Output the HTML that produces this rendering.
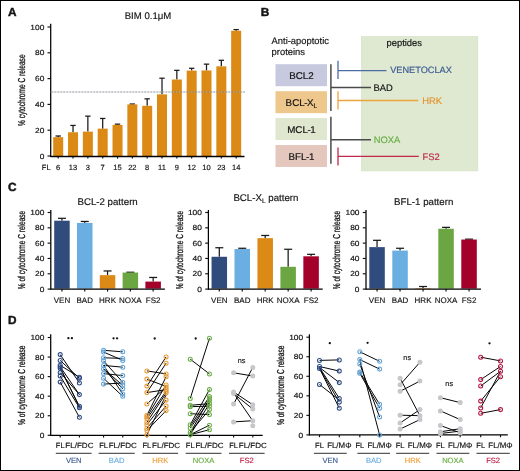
<!DOCTYPE html>
<html><head><meta charset="utf-8"><style>
html,body{margin:0;padding:0;background:#fff;}
body{width:520px;height:471px;overflow:hidden;}
#fig{position:absolute;left:0;top:0;width:520px;height:471px;box-sizing:border-box;border:1px solid #000;}
svg{position:absolute;left:0;top:0;}
text{font-family:"Liberation Sans", sans-serif;}
</style></head><body>
<div id="fig"></div>
<svg width="520" height="471" viewBox="0 0 520 471" font-family='"Liberation Sans", sans-serif' text-rendering="geometricPrecision" style="filter:blur(0.25px)">
<text x="8.00" y="16.30" font-size="11.8" fill="#141414" stroke="#141414" stroke-width="0.45" text-anchor="start" font-weight="bold" >A</text>
<text x="148.00" y="18.80" font-size="9.6" fill="#141414" stroke="#141414" stroke-width="0.17" text-anchor="middle" font-weight="normal" >BIM 0.1&#956;M</text>
<line x1="47.50" y1="156.00" x2="50.50" y2="156.00" stroke="#111" stroke-width="1.15" />
<text transform="translate(44.30,158.60) scale(1.13,1)" x="0" y="0" font-size="7.4" fill="#141414" stroke="#141414" stroke-width="0.17" text-anchor="end" font-weight="normal" >0</text>
<line x1="47.50" y1="130.20" x2="50.50" y2="130.20" stroke="#111" stroke-width="1.15" />
<text transform="translate(44.30,132.80) scale(1.13,1)" x="0" y="0" font-size="7.4" fill="#141414" stroke="#141414" stroke-width="0.17" text-anchor="end" font-weight="normal" >20</text>
<line x1="47.50" y1="104.40" x2="50.50" y2="104.40" stroke="#111" stroke-width="1.15" />
<text transform="translate(44.30,107.00) scale(1.13,1)" x="0" y="0" font-size="7.4" fill="#141414" stroke="#141414" stroke-width="0.17" text-anchor="end" font-weight="normal" >40</text>
<line x1="47.50" y1="78.60" x2="50.50" y2="78.60" stroke="#111" stroke-width="1.15" />
<text transform="translate(44.30,81.20) scale(1.13,1)" x="0" y="0" font-size="7.4" fill="#141414" stroke="#141414" stroke-width="0.17" text-anchor="end" font-weight="normal" >60</text>
<line x1="47.50" y1="52.80" x2="50.50" y2="52.80" stroke="#111" stroke-width="1.15" />
<text transform="translate(44.30,55.40) scale(1.13,1)" x="0" y="0" font-size="7.4" fill="#141414" stroke="#141414" stroke-width="0.17" text-anchor="end" font-weight="normal" >80</text>
<line x1="47.50" y1="27.00" x2="50.50" y2="27.00" stroke="#111" stroke-width="1.15" />
<text transform="translate(44.30,29.60) scale(1.13,1)" x="0" y="0" font-size="7.4" fill="#141414" stroke="#141414" stroke-width="0.17" text-anchor="end" font-weight="normal" >100</text>
<text transform="translate(22.30,90.20) rotate(-90)" x="0" y="0" font-size="10.0" fill="#141414" stroke="#141414" stroke-width="0.3" text-anchor="middle" dominant-baseline="central" textLength="71.5" lengthAdjust="spacingAndGlyphs">% cytochrome C release</text>
<line x1="58.20" y1="136.00" x2="58.20" y2="137.17" stroke="#1a1a1a" stroke-width="1.25" />
<line x1="55.50" y1="136.00" x2="60.90" y2="136.00" stroke="#1a1a1a" stroke-width="1.25" />
<rect x="53.20" y="137.17" width="10.00" height="18.83" fill="#db8a15"/>
<line x1="58.20" y1="156.50" x2="58.20" y2="158.60" stroke="#111" stroke-width="1.15" />
<text x="58.20" y="169.60" font-size="7.5" fill="#141414" stroke="#141414" stroke-width="0.17" text-anchor="middle" font-weight="normal" >6</text>
<line x1="73.03" y1="125.43" x2="73.03" y2="132.26" stroke="#1a1a1a" stroke-width="1.25" />
<line x1="70.33" y1="125.43" x2="75.73" y2="125.43" stroke="#1a1a1a" stroke-width="1.25" />
<rect x="68.03" y="132.26" width="10.00" height="23.74" fill="#db8a15"/>
<line x1="73.03" y1="156.50" x2="73.03" y2="158.60" stroke="#111" stroke-width="1.15" />
<text x="73.03" y="169.60" font-size="7.5" fill="#141414" stroke="#141414" stroke-width="0.17" text-anchor="middle" font-weight="normal" >13</text>
<line x1="87.86" y1="116.14" x2="87.86" y2="131.62" stroke="#1a1a1a" stroke-width="1.25" />
<line x1="85.16" y1="116.14" x2="90.56" y2="116.14" stroke="#1a1a1a" stroke-width="1.25" />
<rect x="82.86" y="131.62" width="10.00" height="24.38" fill="#db8a15"/>
<line x1="87.86" y1="156.50" x2="87.86" y2="158.60" stroke="#111" stroke-width="1.15" />
<text x="87.86" y="169.60" font-size="7.5" fill="#141414" stroke="#141414" stroke-width="0.17" text-anchor="middle" font-weight="normal" >3</text>
<line x1="102.69" y1="118.46" x2="102.69" y2="128.65" stroke="#1a1a1a" stroke-width="1.25" />
<line x1="99.99" y1="118.46" x2="105.39" y2="118.46" stroke="#1a1a1a" stroke-width="1.25" />
<rect x="97.69" y="128.65" width="10.00" height="27.35" fill="#db8a15"/>
<line x1="102.69" y1="156.50" x2="102.69" y2="158.60" stroke="#111" stroke-width="1.15" />
<text x="102.69" y="169.60" font-size="7.5" fill="#141414" stroke="#141414" stroke-width="0.17" text-anchor="middle" font-weight="normal" >7</text>
<line x1="117.52" y1="124.14" x2="117.52" y2="124.91" stroke="#1a1a1a" stroke-width="1.25" />
<line x1="114.82" y1="124.14" x2="120.22" y2="124.14" stroke="#1a1a1a" stroke-width="1.25" />
<rect x="112.52" y="124.91" width="10.00" height="31.09" fill="#db8a15"/>
<line x1="117.52" y1="156.50" x2="117.52" y2="158.60" stroke="#111" stroke-width="1.15" />
<text x="117.52" y="169.60" font-size="7.5" fill="#141414" stroke="#141414" stroke-width="0.17" text-anchor="middle" font-weight="normal" >15</text>
<line x1="132.35" y1="104.01" x2="132.35" y2="104.40" stroke="#1a1a1a" stroke-width="1.25" />
<line x1="129.65" y1="104.01" x2="135.05" y2="104.01" stroke="#1a1a1a" stroke-width="1.25" />
<rect x="127.35" y="104.40" width="10.00" height="51.60" fill="#db8a15"/>
<line x1="132.35" y1="156.50" x2="132.35" y2="158.60" stroke="#111" stroke-width="1.15" />
<text x="132.35" y="169.60" font-size="7.5" fill="#141414" stroke="#141414" stroke-width="0.17" text-anchor="middle" font-weight="normal" >22</text>
<line x1="147.18" y1="98.85" x2="147.18" y2="105.82" stroke="#1a1a1a" stroke-width="1.25" />
<line x1="144.48" y1="98.85" x2="149.88" y2="98.85" stroke="#1a1a1a" stroke-width="1.25" />
<rect x="142.18" y="105.82" width="10.00" height="50.18" fill="#db8a15"/>
<line x1="147.18" y1="156.50" x2="147.18" y2="158.60" stroke="#111" stroke-width="1.15" />
<text x="147.18" y="169.60" font-size="7.5" fill="#141414" stroke="#141414" stroke-width="0.17" text-anchor="middle" font-weight="normal" >8</text>
<line x1="162.01" y1="78.21" x2="162.01" y2="94.34" stroke="#1a1a1a" stroke-width="1.25" />
<line x1="159.31" y1="78.21" x2="164.71" y2="78.21" stroke="#1a1a1a" stroke-width="1.25" />
<rect x="157.01" y="94.34" width="10.00" height="61.66" fill="#db8a15"/>
<line x1="162.01" y1="156.50" x2="162.01" y2="158.60" stroke="#111" stroke-width="1.15" />
<text x="162.01" y="169.60" font-size="7.5" fill="#141414" stroke="#141414" stroke-width="0.17" text-anchor="middle" font-weight="normal" >11</text>
<line x1="176.84" y1="70.34" x2="176.84" y2="79.50" stroke="#1a1a1a" stroke-width="1.25" />
<line x1="174.14" y1="70.34" x2="179.54" y2="70.34" stroke="#1a1a1a" stroke-width="1.25" />
<rect x="171.84" y="79.50" width="10.00" height="76.50" fill="#db8a15"/>
<line x1="176.84" y1="156.50" x2="176.84" y2="158.60" stroke="#111" stroke-width="1.15" />
<text x="176.84" y="169.60" font-size="7.5" fill="#141414" stroke="#141414" stroke-width="0.17" text-anchor="middle" font-weight="normal" >9</text>
<line x1="191.67" y1="68.28" x2="191.67" y2="70.60" stroke="#1a1a1a" stroke-width="1.25" />
<line x1="188.97" y1="68.28" x2="194.37" y2="68.28" stroke="#1a1a1a" stroke-width="1.25" />
<rect x="186.67" y="70.60" width="10.00" height="85.40" fill="#db8a15"/>
<line x1="191.67" y1="156.50" x2="191.67" y2="158.60" stroke="#111" stroke-width="1.15" />
<text x="191.67" y="169.60" font-size="7.5" fill="#141414" stroke="#141414" stroke-width="0.17" text-anchor="middle" font-weight="normal" >12</text>
<line x1="206.50" y1="64.15" x2="206.50" y2="70.47" stroke="#1a1a1a" stroke-width="1.25" />
<line x1="203.80" y1="64.15" x2="209.20" y2="64.15" stroke="#1a1a1a" stroke-width="1.25" />
<rect x="201.50" y="70.47" width="10.00" height="85.53" fill="#db8a15"/>
<line x1="206.50" y1="156.50" x2="206.50" y2="158.60" stroke="#111" stroke-width="1.15" />
<text x="206.50" y="169.60" font-size="7.5" fill="#141414" stroke="#141414" stroke-width="0.17" text-anchor="middle" font-weight="normal" >10</text>
<line x1="221.33" y1="60.28" x2="221.33" y2="66.34" stroke="#1a1a1a" stroke-width="1.25" />
<line x1="218.63" y1="60.28" x2="224.03" y2="60.28" stroke="#1a1a1a" stroke-width="1.25" />
<rect x="216.33" y="66.34" width="10.00" height="89.66" fill="#db8a15"/>
<line x1="221.33" y1="156.50" x2="221.33" y2="158.60" stroke="#111" stroke-width="1.15" />
<text x="221.33" y="169.60" font-size="7.5" fill="#141414" stroke="#141414" stroke-width="0.17" text-anchor="middle" font-weight="normal" >23</text>
<line x1="236.16" y1="29.58" x2="236.16" y2="30.74" stroke="#1a1a1a" stroke-width="1.25" />
<line x1="233.46" y1="29.58" x2="238.86" y2="29.58" stroke="#1a1a1a" stroke-width="1.25" />
<rect x="231.16" y="30.74" width="10.00" height="125.26" fill="#db8a15"/>
<line x1="236.16" y1="156.50" x2="236.16" y2="158.60" stroke="#111" stroke-width="1.15" />
<text x="236.16" y="169.60" font-size="7.5" fill="#141414" stroke="#141414" stroke-width="0.17" text-anchor="middle" font-weight="normal" >14</text>
<text x="46.20" y="169.60" font-size="7.5" fill="#141414" stroke="#141414" stroke-width="0.17" text-anchor="middle" font-weight="normal" >FL</text>
<line x1="50.70" y1="23.80" x2="50.70" y2="157.00" stroke="#000" stroke-width="1.25" />
<line x1="50.50" y1="156.50" x2="244.50" y2="156.50" stroke="#000" stroke-width="1.3" />
<line x1="50.50" y1="92.00" x2="245.00" y2="92.00" stroke="rgba(185,190,200,0.6)" stroke-width="1.0" />
<line x1="51.50" y1="92.00" x2="245.00" y2="92.00" stroke="rgba(40,40,40,0.42)" stroke-width="1.0" stroke-dasharray="1.3 1.7"/>
<text x="260.80" y="15.80" font-size="11.8" fill="#141414" stroke="#141414" stroke-width="0.45" text-anchor="start" font-weight="bold" >B</text>
<rect x="361.5" y="36.6" width="116.3" height="134.3" fill="#dfe9d1" stroke="#d6e2c6" stroke-width="0.7"/>
<text x="271.60" y="43.80" font-size="9.4" fill="#141414" stroke="#141414" stroke-width="0.17" text-anchor="start" font-weight="normal" >Anti-apoptotic</text>
<text x="271.60" y="54.70" font-size="9.4" fill="#141414" stroke="#141414" stroke-width="0.17" text-anchor="start" font-weight="normal" >proteins</text>
<text x="386.50" y="46.30" font-size="9.4" fill="#141414" stroke="#141414" stroke-width="0.17" text-anchor="start" font-weight="normal" >peptides</text>
<rect x="275.50" y="64.20" width="51.50" height="22.00" fill="#c7c9de"/>
<text x="301.40" y="78.90" font-size="9.8" fill="#141414" stroke="#141414" stroke-width="0.2" text-anchor="middle" font-weight="normal" >BCL2</text>
<rect x="275.50" y="91.20" width="51.50" height="22.00" fill="#eec78c"/>
<text x="301.40" y="105.90" font-size="9.8" fill="#141414" stroke="#141414" stroke-width="0.2" text-anchor="middle" font-weight="normal" >BCL<tspan dx="-0.4">-</tspan><tspan dx="-0.5">X</tspan><tspan font-size="6.5" dy="2">L</tspan></text>
<rect x="275.50" y="118.00" width="51.50" height="22.00" fill="#dfe7cf"/>
<text x="301.40" y="132.70" font-size="9.8" fill="#141414" stroke="#141414" stroke-width="0.2" text-anchor="middle" font-weight="normal" >MCL<tspan dx="-0.4">-</tspan><tspan dx="-0.6">1</tspan></text>
<rect x="275.50" y="145.00" width="51.50" height="22.00" fill="#e4c8bd"/>
<text x="301.40" y="159.70" font-size="9.8" fill="#141414" stroke="#141414" stroke-width="0.2" text-anchor="middle" font-weight="normal" >BFL<tspan dx="-0.3">-</tspan><tspan dx="-0.4">1</tspan></text>
<line x1="330.90" y1="64.20" x2="330.90" y2="110.90" stroke="#4a4a4a" stroke-width="1.5" />
<line x1="330.90" y1="116.80" x2="330.90" y2="163.80" stroke="#4a4a4a" stroke-width="1.5" />
<line x1="330.90" y1="87.50" x2="371.00" y2="87.50" stroke="#4a4a4a" stroke-width="1.4" />
<line x1="330.90" y1="139.80" x2="371.00" y2="139.80" stroke="#4a4a4a" stroke-width="1.4" />
<line x1="338.00" y1="60.70" x2="338.00" y2="79.00" stroke="#4c6ca3" stroke-width="1.3" />
<line x1="338.00" y1="70.60" x2="386.50" y2="70.60" stroke="#4c6ca3" stroke-width="1.3" />
<line x1="338.00" y1="91.20" x2="338.00" y2="109.50" stroke="#eaa53e" stroke-width="1.3" />
<line x1="338.00" y1="100.50" x2="418.30" y2="100.50" stroke="#eaa53e" stroke-width="1.3" />
<line x1="338.00" y1="147.40" x2="338.00" y2="165.50" stroke="#c0284e" stroke-width="1.3" />
<line x1="338.00" y1="156.30" x2="418.80" y2="156.30" stroke="#c0284e" stroke-width="1.3" />
<text x="390.20" y="72.80" font-size="9.2" fill="#3b5b92" stroke="#3b5b92" stroke-width="0.17" text-anchor="start" font-weight="normal" >VENETOCLAX</text>
<text x="373.60" y="90.60" font-size="9.4" fill="#141414" stroke="#141414" stroke-width="0.17" text-anchor="start" font-weight="normal" >BAD</text>
<text x="422.20" y="103.60" font-size="9.4" fill="#e39430" stroke="#e39430" stroke-width="0.17" text-anchor="start" font-weight="normal" >HRK</text>
<text x="373.80" y="142.90" font-size="9.4" fill="#6aae45" stroke="#6aae45" stroke-width="0.17" text-anchor="start" font-weight="normal" >NOXA</text>
<text x="422.50" y="159.60" font-size="9.4" fill="#c0284e" stroke="#c0284e" stroke-width="0.17" text-anchor="start" font-weight="normal" >FS2</text>
<text x="8.00" y="190.80" font-size="11.8" fill="#141414" stroke="#141414" stroke-width="0.45" text-anchor="start" font-weight="bold" >C</text>
<line x1="47.60" y1="289.10" x2="50.60" y2="289.10" stroke="#111" stroke-width="1.15" />
<text transform="translate(44.30,291.70) scale(1.13,1)" x="0" y="0" font-size="7.4" fill="#141414" stroke="#141414" stroke-width="0.17" text-anchor="end" font-weight="normal" >0</text>
<line x1="47.60" y1="273.78" x2="50.60" y2="273.78" stroke="#111" stroke-width="1.15" />
<text transform="translate(44.30,276.38) scale(1.13,1)" x="0" y="0" font-size="7.4" fill="#141414" stroke="#141414" stroke-width="0.17" text-anchor="end" font-weight="normal" >20</text>
<line x1="47.60" y1="258.46" x2="50.60" y2="258.46" stroke="#111" stroke-width="1.15" />
<text transform="translate(44.30,261.06) scale(1.13,1)" x="0" y="0" font-size="7.4" fill="#141414" stroke="#141414" stroke-width="0.17" text-anchor="end" font-weight="normal" >40</text>
<line x1="47.60" y1="243.14" x2="50.60" y2="243.14" stroke="#111" stroke-width="1.15" />
<text transform="translate(44.30,245.74) scale(1.13,1)" x="0" y="0" font-size="7.4" fill="#141414" stroke="#141414" stroke-width="0.17" text-anchor="end" font-weight="normal" >60</text>
<line x1="47.60" y1="227.82" x2="50.60" y2="227.82" stroke="#111" stroke-width="1.15" />
<text transform="translate(44.30,230.42) scale(1.13,1)" x="0" y="0" font-size="7.4" fill="#141414" stroke="#141414" stroke-width="0.17" text-anchor="end" font-weight="normal" >80</text>
<line x1="47.60" y1="212.50" x2="50.60" y2="212.50" stroke="#111" stroke-width="1.15" />
<text transform="translate(44.30,215.10) scale(1.13,1)" x="0" y="0" font-size="7.4" fill="#141414" stroke="#141414" stroke-width="0.17" text-anchor="end" font-weight="normal" >100</text>
<text transform="translate(22.20,250.00) rotate(-90)" x="0" y="0" font-size="10.0" fill="#141414" stroke="#141414" stroke-width="0.3" text-anchor="middle" dominant-baseline="central" textLength="78.5" lengthAdjust="spacingAndGlyphs">% of cytochrome C release</text>
<text x="107.60" y="204.90" font-size="9.7" fill="#141414" stroke="#141414" stroke-width="0.17" text-anchor="middle" font-weight="normal" >BCL-2 pattern</text>
<line x1="61.95" y1="218.32" x2="61.95" y2="220.70" stroke="#1a1a1a" stroke-width="1.25" />
<line x1="57.95" y1="218.32" x2="65.95" y2="218.32" stroke="#1a1a1a" stroke-width="1.25" />
<rect x="54.20" y="220.70" width="15.50" height="67.90" fill="#2f4c7d"/>
<line x1="61.95" y1="289.10" x2="61.95" y2="291.60" stroke="#111" stroke-width="1.15" />
<text x="61.95" y="302.50" font-size="8.0" fill="#141414" stroke="#141414" stroke-width="0.15" text-anchor="middle" font-weight="normal" >VEN</text>
<line x1="84.75" y1="221.46" x2="84.75" y2="222.92" stroke="#1a1a1a" stroke-width="1.25" />
<line x1="80.75" y1="221.46" x2="88.75" y2="221.46" stroke="#1a1a1a" stroke-width="1.25" />
<rect x="77.00" y="222.92" width="15.50" height="65.68" fill="#6aaee2"/>
<line x1="84.75" y1="289.10" x2="84.75" y2="291.60" stroke="#111" stroke-width="1.15" />
<text x="84.75" y="302.50" font-size="8.0" fill="#141414" stroke="#141414" stroke-width="0.15" text-anchor="middle" font-weight="normal" >BAD</text>
<line x1="107.55" y1="270.95" x2="107.55" y2="275.16" stroke="#1a1a1a" stroke-width="1.25" />
<line x1="103.55" y1="270.95" x2="111.55" y2="270.95" stroke="#1a1a1a" stroke-width="1.25" />
<rect x="99.80" y="275.16" width="15.50" height="13.44" fill="#db8a15"/>
<line x1="107.55" y1="289.10" x2="107.55" y2="291.60" stroke="#111" stroke-width="1.15" />
<text x="107.55" y="302.50" font-size="8.0" fill="#141414" stroke="#141414" stroke-width="0.15" text-anchor="middle" font-weight="normal" >HRK</text>
<line x1="130.35" y1="272.25" x2="130.35" y2="272.55" stroke="#1a1a1a" stroke-width="1.25" />
<line x1="126.35" y1="272.25" x2="134.35" y2="272.25" stroke="#1a1a1a" stroke-width="1.25" />
<rect x="122.60" y="272.55" width="15.50" height="16.05" fill="#6ba643"/>
<line x1="130.35" y1="289.10" x2="130.35" y2="291.60" stroke="#111" stroke-width="1.15" />
<text x="130.35" y="302.50" font-size="8.0" fill="#141414" stroke="#141414" stroke-width="0.15" text-anchor="middle" font-weight="normal" >NOXA</text>
<line x1="153.15" y1="277.46" x2="153.15" y2="281.59" stroke="#1a1a1a" stroke-width="1.25" />
<line x1="149.15" y1="277.46" x2="157.15" y2="277.46" stroke="#1a1a1a" stroke-width="1.25" />
<rect x="145.40" y="281.59" width="15.50" height="7.01" fill="#a3012a"/>
<line x1="153.15" y1="289.10" x2="153.15" y2="291.60" stroke="#111" stroke-width="1.15" />
<text x="153.15" y="302.50" font-size="8.0" fill="#141414" stroke="#141414" stroke-width="0.15" text-anchor="middle" font-weight="normal" >FS2</text>
<line x1="50.80" y1="210.00" x2="50.80" y2="289.70" stroke="#000" stroke-width="1.25" />
<line x1="50.60" y1="289.10" x2="164.90" y2="289.10" stroke="#000" stroke-width="1.3" />
<line x1="205.20" y1="289.10" x2="208.20" y2="289.10" stroke="#111" stroke-width="1.15" />
<text transform="translate(201.90,291.70) scale(1.13,1)" x="0" y="0" font-size="7.4" fill="#141414" stroke="#141414" stroke-width="0.17" text-anchor="end" font-weight="normal" >0</text>
<line x1="205.20" y1="273.78" x2="208.20" y2="273.78" stroke="#111" stroke-width="1.15" />
<text transform="translate(201.90,276.38) scale(1.13,1)" x="0" y="0" font-size="7.4" fill="#141414" stroke="#141414" stroke-width="0.17" text-anchor="end" font-weight="normal" >20</text>
<line x1="205.20" y1="258.46" x2="208.20" y2="258.46" stroke="#111" stroke-width="1.15" />
<text transform="translate(201.90,261.06) scale(1.13,1)" x="0" y="0" font-size="7.4" fill="#141414" stroke="#141414" stroke-width="0.17" text-anchor="end" font-weight="normal" >40</text>
<line x1="205.20" y1="243.14" x2="208.20" y2="243.14" stroke="#111" stroke-width="1.15" />
<text transform="translate(201.90,245.74) scale(1.13,1)" x="0" y="0" font-size="7.4" fill="#141414" stroke="#141414" stroke-width="0.17" text-anchor="end" font-weight="normal" >60</text>
<line x1="205.20" y1="227.82" x2="208.20" y2="227.82" stroke="#111" stroke-width="1.15" />
<text transform="translate(201.90,230.42) scale(1.13,1)" x="0" y="0" font-size="7.4" fill="#141414" stroke="#141414" stroke-width="0.17" text-anchor="end" font-weight="normal" >80</text>
<line x1="205.20" y1="212.50" x2="208.20" y2="212.50" stroke="#111" stroke-width="1.15" />
<text transform="translate(201.90,215.10) scale(1.13,1)" x="0" y="0" font-size="7.4" fill="#141414" stroke="#141414" stroke-width="0.17" text-anchor="end" font-weight="normal" >100</text>
<text transform="translate(180.10,250.00) rotate(-90)" x="0" y="0" font-size="10.0" fill="#141414" stroke="#141414" stroke-width="0.3" text-anchor="middle" dominant-baseline="central" textLength="78.5" lengthAdjust="spacingAndGlyphs">% of cytochrome C release</text>
<text x="265.90" y="200.60" font-size="9.7" fill="#141414" stroke="#141414" stroke-width="0.17" text-anchor="middle" font-weight="normal" >BCL-X<tspan font-size="6.5" dy="2">L</tspan><tspan dy="-2"> pattern</tspan></text>
<line x1="219.30" y1="247.74" x2="219.30" y2="256.77" stroke="#1a1a1a" stroke-width="1.25" />
<line x1="215.30" y1="247.74" x2="223.30" y2="247.74" stroke="#1a1a1a" stroke-width="1.25" />
<rect x="211.55" y="256.77" width="15.50" height="31.83" fill="#2f4c7d"/>
<line x1="219.30" y1="289.10" x2="219.30" y2="291.60" stroke="#111" stroke-width="1.15" />
<text x="219.30" y="302.50" font-size="8.0" fill="#141414" stroke="#141414" stroke-width="0.15" text-anchor="middle" font-weight="normal" >VEN</text>
<line x1="242.25" y1="248.27" x2="242.25" y2="249.04" stroke="#1a1a1a" stroke-width="1.25" />
<line x1="238.25" y1="248.27" x2="246.25" y2="248.27" stroke="#1a1a1a" stroke-width="1.25" />
<rect x="234.50" y="249.04" width="15.50" height="39.56" fill="#6aaee2"/>
<line x1="242.25" y1="289.10" x2="242.25" y2="291.60" stroke="#111" stroke-width="1.15" />
<text x="242.25" y="302.50" font-size="8.0" fill="#141414" stroke="#141414" stroke-width="0.15" text-anchor="middle" font-weight="normal" >BAD</text>
<line x1="265.20" y1="235.48" x2="265.20" y2="238.16" stroke="#1a1a1a" stroke-width="1.25" />
<line x1="261.20" y1="235.48" x2="269.20" y2="235.48" stroke="#1a1a1a" stroke-width="1.25" />
<rect x="257.45" y="238.16" width="15.50" height="50.44" fill="#db8a15"/>
<line x1="265.20" y1="289.10" x2="265.20" y2="291.60" stroke="#111" stroke-width="1.15" />
<text x="265.20" y="302.50" font-size="8.0" fill="#141414" stroke="#141414" stroke-width="0.15" text-anchor="middle" font-weight="normal" >HRK</text>
<line x1="288.15" y1="249.27" x2="288.15" y2="266.81" stroke="#1a1a1a" stroke-width="1.25" />
<line x1="284.15" y1="249.27" x2="292.15" y2="249.27" stroke="#1a1a1a" stroke-width="1.25" />
<rect x="280.40" y="266.81" width="15.50" height="21.79" fill="#6ba643"/>
<line x1="288.15" y1="289.10" x2="288.15" y2="291.60" stroke="#111" stroke-width="1.15" />
<text x="288.15" y="302.50" font-size="8.0" fill="#141414" stroke="#141414" stroke-width="0.15" text-anchor="middle" font-weight="normal" >NOXA</text>
<line x1="311.10" y1="254.32" x2="311.10" y2="256.32" stroke="#1a1a1a" stroke-width="1.25" />
<line x1="307.10" y1="254.32" x2="315.10" y2="254.32" stroke="#1a1a1a" stroke-width="1.25" />
<rect x="303.35" y="256.32" width="15.50" height="32.28" fill="#a3012a"/>
<line x1="311.10" y1="289.10" x2="311.10" y2="291.60" stroke="#111" stroke-width="1.15" />
<text x="311.10" y="302.50" font-size="8.0" fill="#141414" stroke="#141414" stroke-width="0.15" text-anchor="middle" font-weight="normal" >FS2</text>
<line x1="208.40" y1="210.00" x2="208.40" y2="289.70" stroke="#000" stroke-width="1.25" />
<line x1="208.20" y1="289.10" x2="322.70" y2="289.10" stroke="#000" stroke-width="1.3" />
<line x1="362.80" y1="289.10" x2="365.80" y2="289.10" stroke="#111" stroke-width="1.15" />
<text transform="translate(359.50,291.70) scale(1.13,1)" x="0" y="0" font-size="7.4" fill="#141414" stroke="#141414" stroke-width="0.17" text-anchor="end" font-weight="normal" >0</text>
<line x1="362.80" y1="273.78" x2="365.80" y2="273.78" stroke="#111" stroke-width="1.15" />
<text transform="translate(359.50,276.38) scale(1.13,1)" x="0" y="0" font-size="7.4" fill="#141414" stroke="#141414" stroke-width="0.17" text-anchor="end" font-weight="normal" >20</text>
<line x1="362.80" y1="258.46" x2="365.80" y2="258.46" stroke="#111" stroke-width="1.15" />
<text transform="translate(359.50,261.06) scale(1.13,1)" x="0" y="0" font-size="7.4" fill="#141414" stroke="#141414" stroke-width="0.17" text-anchor="end" font-weight="normal" >40</text>
<line x1="362.80" y1="243.14" x2="365.80" y2="243.14" stroke="#111" stroke-width="1.15" />
<text transform="translate(359.50,245.74) scale(1.13,1)" x="0" y="0" font-size="7.4" fill="#141414" stroke="#141414" stroke-width="0.17" text-anchor="end" font-weight="normal" >60</text>
<line x1="362.80" y1="227.82" x2="365.80" y2="227.82" stroke="#111" stroke-width="1.15" />
<text transform="translate(359.50,230.42) scale(1.13,1)" x="0" y="0" font-size="7.4" fill="#141414" stroke="#141414" stroke-width="0.17" text-anchor="end" font-weight="normal" >80</text>
<line x1="362.80" y1="212.50" x2="365.80" y2="212.50" stroke="#111" stroke-width="1.15" />
<text transform="translate(359.50,215.10) scale(1.13,1)" x="0" y="0" font-size="7.4" fill="#141414" stroke="#141414" stroke-width="0.17" text-anchor="end" font-weight="normal" >100</text>
<text transform="translate(337.90,250.00) rotate(-90)" x="0" y="0" font-size="10.0" fill="#141414" stroke="#141414" stroke-width="0.3" text-anchor="middle" dominant-baseline="central" textLength="78.5" lengthAdjust="spacingAndGlyphs">% of cytochrome C release</text>
<text x="423.70" y="204.50" font-size="9.7" fill="#141414" stroke="#141414" stroke-width="0.17" text-anchor="middle" font-weight="normal" >BFL-1 pattern</text>
<line x1="377.05" y1="240.31" x2="377.05" y2="247.12" stroke="#1a1a1a" stroke-width="1.25" />
<line x1="373.05" y1="240.31" x2="381.05" y2="240.31" stroke="#1a1a1a" stroke-width="1.25" />
<rect x="369.30" y="247.12" width="15.50" height="41.48" fill="#2f4c7d"/>
<line x1="377.05" y1="289.10" x2="377.05" y2="291.60" stroke="#111" stroke-width="1.15" />
<text x="377.05" y="302.50" font-size="8.0" fill="#141414" stroke="#141414" stroke-width="0.15" text-anchor="middle" font-weight="normal" >VEN</text>
<line x1="400.05" y1="248.27" x2="400.05" y2="250.57" stroke="#1a1a1a" stroke-width="1.25" />
<line x1="396.05" y1="248.27" x2="404.05" y2="248.27" stroke="#1a1a1a" stroke-width="1.25" />
<rect x="392.30" y="250.57" width="15.50" height="38.03" fill="#6aaee2"/>
<line x1="400.05" y1="289.10" x2="400.05" y2="291.60" stroke="#111" stroke-width="1.15" />
<text x="400.05" y="302.50" font-size="8.0" fill="#141414" stroke="#141414" stroke-width="0.15" text-anchor="middle" font-weight="normal" >BAD</text>
<line x1="423.05" y1="286.50" x2="423.05" y2="288.10" stroke="#1a1a1a" stroke-width="1.25" />
<line x1="419.05" y1="286.50" x2="427.05" y2="286.50" stroke="#1a1a1a" stroke-width="1.25" />
<rect x="415.30" y="288.10" width="15.50" height="0.50" fill="#db8a15"/>
<line x1="423.05" y1="289.10" x2="423.05" y2="291.60" stroke="#111" stroke-width="1.15" />
<text x="423.05" y="302.50" font-size="8.0" fill="#141414" stroke="#141414" stroke-width="0.15" text-anchor="middle" font-weight="normal" >HRK</text>
<line x1="446.05" y1="227.36" x2="446.05" y2="228.74" stroke="#1a1a1a" stroke-width="1.25" />
<line x1="442.05" y1="227.36" x2="450.05" y2="227.36" stroke="#1a1a1a" stroke-width="1.25" />
<rect x="438.30" y="228.74" width="15.50" height="59.86" fill="#6ba643"/>
<line x1="446.05" y1="289.10" x2="446.05" y2="291.60" stroke="#111" stroke-width="1.15" />
<text x="446.05" y="302.50" font-size="8.0" fill="#141414" stroke="#141414" stroke-width="0.15" text-anchor="middle" font-weight="normal" >NOXA</text>
<line x1="469.05" y1="239.16" x2="469.05" y2="239.54" stroke="#1a1a1a" stroke-width="1.25" />
<line x1="465.05" y1="239.16" x2="473.05" y2="239.16" stroke="#1a1a1a" stroke-width="1.25" />
<rect x="461.30" y="239.54" width="15.50" height="49.06" fill="#a3012a"/>
<line x1="469.05" y1="289.10" x2="469.05" y2="291.60" stroke="#111" stroke-width="1.15" />
<text x="469.05" y="302.50" font-size="8.0" fill="#141414" stroke="#141414" stroke-width="0.15" text-anchor="middle" font-weight="normal" >FS2</text>
<line x1="366.00" y1="210.00" x2="366.00" y2="289.70" stroke="#000" stroke-width="1.25" />
<line x1="365.80" y1="289.10" x2="481.00" y2="289.10" stroke="#000" stroke-width="1.3" />
<text x="8.00" y="323.50" font-size="11.8" fill="#141414" stroke="#141414" stroke-width="0.45" text-anchor="start" font-weight="bold" >D</text>
<line x1="50.70" y1="334.30" x2="50.70" y2="435.90" stroke="#000" stroke-width="1.25" />
<line x1="50.70" y1="435.30" x2="262.70" y2="435.30" stroke="#000" stroke-width="1.3" />
<line x1="47.70" y1="435.30" x2="50.70" y2="435.30" stroke="#111" stroke-width="1.15" />
<text transform="translate(44.40,437.90) scale(1.13,1)" x="0" y="0" font-size="7.4" fill="#141414" stroke="#141414" stroke-width="0.17" text-anchor="end" font-weight="normal" >0</text>
<line x1="47.70" y1="415.74" x2="50.70" y2="415.74" stroke="#111" stroke-width="1.15" />
<text transform="translate(44.40,418.34) scale(1.13,1)" x="0" y="0" font-size="7.4" fill="#141414" stroke="#141414" stroke-width="0.17" text-anchor="end" font-weight="normal" >20</text>
<line x1="47.70" y1="396.18" x2="50.70" y2="396.18" stroke="#111" stroke-width="1.15" />
<text transform="translate(44.40,398.78) scale(1.13,1)" x="0" y="0" font-size="7.4" fill="#141414" stroke="#141414" stroke-width="0.17" text-anchor="end" font-weight="normal" >40</text>
<line x1="47.70" y1="376.62" x2="50.70" y2="376.62" stroke="#111" stroke-width="1.15" />
<text transform="translate(44.40,379.22) scale(1.13,1)" x="0" y="0" font-size="7.4" fill="#141414" stroke="#141414" stroke-width="0.17" text-anchor="end" font-weight="normal" >60</text>
<line x1="47.70" y1="357.06" x2="50.70" y2="357.06" stroke="#111" stroke-width="1.15" />
<text transform="translate(44.40,359.66) scale(1.13,1)" x="0" y="0" font-size="7.4" fill="#141414" stroke="#141414" stroke-width="0.17" text-anchor="end" font-weight="normal" >80</text>
<line x1="47.70" y1="337.50" x2="50.70" y2="337.50" stroke="#111" stroke-width="1.15" />
<text transform="translate(44.40,340.10) scale(1.13,1)" x="0" y="0" font-size="7.4" fill="#141414" stroke="#141414" stroke-width="0.17" text-anchor="end" font-weight="normal" >100</text>
<line x1="60.20" y1="435.30" x2="60.20" y2="437.60" stroke="#111" stroke-width="1.15" />
<line x1="79.40" y1="435.30" x2="79.40" y2="437.60" stroke="#111" stroke-width="1.15" />
<line x1="60.20" y1="354.60" x2="79.40" y2="382.90" stroke="#050505" stroke-width="1.0" />
<line x1="60.20" y1="360.40" x2="79.40" y2="378.30" stroke="#050505" stroke-width="1.0" />
<line x1="60.20" y1="365.30" x2="79.40" y2="377.20" stroke="#050505" stroke-width="1.0" />
<line x1="60.20" y1="366.80" x2="79.40" y2="394.60" stroke="#050505" stroke-width="1.0" />
<line x1="60.20" y1="368.30" x2="79.40" y2="406.30" stroke="#050505" stroke-width="1.0" />
<line x1="60.20" y1="372.60" x2="79.40" y2="394.60" stroke="#050505" stroke-width="1.0" />
<line x1="60.20" y1="376.00" x2="79.40" y2="407.80" stroke="#050505" stroke-width="1.0" />
<line x1="60.20" y1="382.10" x2="79.40" y2="417.30" stroke="#050505" stroke-width="1.0" />
<line x1="60.20" y1="367.50" x2="79.40" y2="407.00" stroke="#050505" stroke-width="1.0" />
<circle cx="60.20" cy="354.60" r="2.0" fill="none" stroke="#2b4a86" stroke-width="1.05"/>
<circle cx="60.20" cy="360.40" r="2.0" fill="none" stroke="#2b4a86" stroke-width="1.05"/>
<circle cx="60.20" cy="365.30" r="2.0" fill="none" stroke="#2b4a86" stroke-width="1.05"/>
<circle cx="60.20" cy="366.80" r="2.0" fill="none" stroke="#2b4a86" stroke-width="1.05"/>
<circle cx="60.20" cy="368.30" r="2.0" fill="none" stroke="#2b4a86" stroke-width="1.05"/>
<circle cx="60.20" cy="372.60" r="2.0" fill="none" stroke="#2b4a86" stroke-width="1.05"/>
<circle cx="60.20" cy="376.00" r="2.0" fill="none" stroke="#2b4a86" stroke-width="1.05"/>
<circle cx="60.20" cy="382.10" r="2.0" fill="none" stroke="#2b4a86" stroke-width="1.05"/>
<circle cx="79.40" cy="377.20" r="2.0" fill="none" stroke="#2b4a86" stroke-width="1.05"/>
<circle cx="79.40" cy="378.30" r="2.0" fill="none" stroke="#2b4a86" stroke-width="1.05"/>
<circle cx="79.40" cy="382.90" r="2.0" fill="none" stroke="#2b4a86" stroke-width="1.05"/>
<circle cx="79.40" cy="394.60" r="2.0" fill="none" stroke="#2b4a86" stroke-width="1.05"/>
<circle cx="79.40" cy="406.30" r="2.0" fill="none" stroke="#2b4a86" stroke-width="1.05"/>
<circle cx="79.40" cy="407.80" r="2.0" fill="none" stroke="#2b4a86" stroke-width="1.05"/>
<circle cx="79.40" cy="417.30" r="2.0" fill="none" stroke="#2b4a86" stroke-width="1.05"/>
<text x="60.20" y="448.00" font-size="7.5" fill="#141414" stroke="#141414" stroke-width="0.17" text-anchor="middle" font-weight="normal" >FL</text>
<text transform="translate(79.40,448.00) scale(1.07,1)" x="0" y="0" font-size="7.5" fill="#141414" stroke="#141414" stroke-width="0.17" text-anchor="middle" font-weight="normal" >FL/FDC</text>
<line x1="55.80" y1="453.30" x2="91.60" y2="453.30" stroke="#58595b" stroke-width="1.25" />
<text x="73.70" y="462.90" font-size="7.6" fill="#3c5a94" stroke="#3c5a94" stroke-width="0.17" text-anchor="middle" font-weight="normal" >VEN</text>
<line x1="103.55" y1="435.30" x2="103.55" y2="437.60" stroke="#111" stroke-width="1.15" />
<line x1="122.75" y1="435.30" x2="122.75" y2="437.60" stroke="#111" stroke-width="1.15" />
<line x1="103.55" y1="350.30" x2="122.75" y2="351.80" stroke="#050505" stroke-width="1.0" />
<line x1="103.55" y1="352.00" x2="122.75" y2="360.40" stroke="#050505" stroke-width="1.0" />
<line x1="103.55" y1="357.80" x2="122.75" y2="358.40" stroke="#050505" stroke-width="1.0" />
<line x1="103.55" y1="360.80" x2="122.75" y2="382.30" stroke="#050505" stroke-width="1.0" />
<line x1="103.55" y1="365.40" x2="122.75" y2="367.20" stroke="#050505" stroke-width="1.0" />
<line x1="103.55" y1="365.40" x2="122.75" y2="394.00" stroke="#050505" stroke-width="1.0" />
<line x1="103.55" y1="368.90" x2="122.75" y2="385.30" stroke="#050505" stroke-width="1.0" />
<line x1="103.55" y1="373.60" x2="122.75" y2="375.60" stroke="#050505" stroke-width="1.0" />
<line x1="103.55" y1="378.30" x2="122.75" y2="396.30" stroke="#050505" stroke-width="1.0" />
<line x1="103.55" y1="384.10" x2="122.75" y2="383.00" stroke="#050505" stroke-width="1.0" />
<line x1="103.55" y1="368.90" x2="122.75" y2="388.80" stroke="#050505" stroke-width="1.0" />
<circle cx="103.55" cy="350.30" r="2.0" fill="none" stroke="#62a6dc" stroke-width="1.05"/>
<circle cx="103.55" cy="352.00" r="2.0" fill="none" stroke="#62a6dc" stroke-width="1.05"/>
<circle cx="103.55" cy="357.80" r="2.0" fill="none" stroke="#62a6dc" stroke-width="1.05"/>
<circle cx="103.55" cy="360.80" r="2.0" fill="none" stroke="#62a6dc" stroke-width="1.05"/>
<circle cx="103.55" cy="365.40" r="2.0" fill="none" stroke="#62a6dc" stroke-width="1.05"/>
<circle cx="103.55" cy="368.90" r="2.0" fill="none" stroke="#62a6dc" stroke-width="1.05"/>
<circle cx="103.55" cy="373.60" r="2.0" fill="none" stroke="#62a6dc" stroke-width="1.05"/>
<circle cx="103.55" cy="378.30" r="2.0" fill="none" stroke="#62a6dc" stroke-width="1.05"/>
<circle cx="103.55" cy="384.10" r="2.0" fill="none" stroke="#62a6dc" stroke-width="1.05"/>
<circle cx="122.75" cy="351.80" r="2.0" fill="none" stroke="#62a6dc" stroke-width="1.05"/>
<circle cx="122.75" cy="358.40" r="2.0" fill="none" stroke="#62a6dc" stroke-width="1.05"/>
<circle cx="122.75" cy="360.60" r="2.0" fill="none" stroke="#62a6dc" stroke-width="1.05"/>
<circle cx="122.75" cy="367.20" r="2.0" fill="none" stroke="#62a6dc" stroke-width="1.05"/>
<circle cx="122.75" cy="375.60" r="2.0" fill="none" stroke="#62a6dc" stroke-width="1.05"/>
<circle cx="122.75" cy="382.30" r="2.0" fill="none" stroke="#62a6dc" stroke-width="1.05"/>
<circle cx="122.75" cy="385.30" r="2.0" fill="none" stroke="#62a6dc" stroke-width="1.05"/>
<circle cx="122.75" cy="388.80" r="2.0" fill="none" stroke="#62a6dc" stroke-width="1.05"/>
<circle cx="122.75" cy="394.00" r="2.0" fill="none" stroke="#62a6dc" stroke-width="1.05"/>
<circle cx="122.75" cy="396.30" r="2.0" fill="none" stroke="#62a6dc" stroke-width="1.05"/>
<text x="103.55" y="448.00" font-size="7.5" fill="#141414" stroke="#141414" stroke-width="0.17" text-anchor="middle" font-weight="normal" >FL</text>
<text transform="translate(122.75,448.00) scale(1.07,1)" x="0" y="0" font-size="7.5" fill="#141414" stroke="#141414" stroke-width="0.17" text-anchor="middle" font-weight="normal" >FL/FDC</text>
<line x1="98.60" y1="453.30" x2="134.70" y2="453.30" stroke="#58595b" stroke-width="1.25" />
<text x="116.65" y="462.90" font-size="7.6" fill="#6aaee2" stroke="#6aaee2" stroke-width="0.17" text-anchor="middle" font-weight="normal" >BAD</text>
<line x1="146.90" y1="435.30" x2="146.90" y2="437.60" stroke="#111" stroke-width="1.15" />
<line x1="166.10" y1="435.30" x2="166.10" y2="437.60" stroke="#111" stroke-width="1.15" />
<line x1="146.90" y1="370.90" x2="166.10" y2="373.90" stroke="#050505" stroke-width="1.0" />
<line x1="146.90" y1="379.10" x2="166.10" y2="386.50" stroke="#050505" stroke-width="1.0" />
<line x1="146.90" y1="386.10" x2="166.10" y2="356.90" stroke="#050505" stroke-width="1.0" />
<line x1="146.90" y1="392.60" x2="166.10" y2="363.20" stroke="#050505" stroke-width="1.0" />
<line x1="146.90" y1="392.60" x2="166.10" y2="389.60" stroke="#050505" stroke-width="1.0" />
<line x1="146.90" y1="403.90" x2="166.10" y2="387.30" stroke="#050505" stroke-width="1.0" />
<line x1="146.90" y1="415.30" x2="166.10" y2="376.80" stroke="#050505" stroke-width="1.0" />
<line x1="146.90" y1="417.00" x2="166.10" y2="384.90" stroke="#050505" stroke-width="1.0" />
<line x1="146.90" y1="418.80" x2="166.10" y2="391.20" stroke="#050505" stroke-width="1.0" />
<line x1="146.90" y1="422.30" x2="166.10" y2="393.10" stroke="#050505" stroke-width="1.0" />
<line x1="146.90" y1="424.70" x2="166.10" y2="400.10" stroke="#050505" stroke-width="1.0" />
<line x1="146.90" y1="428.20" x2="166.10" y2="406.00" stroke="#050505" stroke-width="1.0" />
<line x1="146.90" y1="430.50" x2="166.10" y2="410.60" stroke="#050505" stroke-width="1.0" />
<line x1="146.90" y1="434.70" x2="166.10" y2="395.00" stroke="#050505" stroke-width="1.0" />
<circle cx="146.90" cy="370.90" r="2.0" fill="none" stroke="#e89a34" stroke-width="1.05"/>
<circle cx="146.90" cy="379.10" r="2.0" fill="none" stroke="#e89a34" stroke-width="1.05"/>
<circle cx="146.90" cy="386.10" r="2.0" fill="none" stroke="#e89a34" stroke-width="1.05"/>
<circle cx="146.90" cy="392.60" r="2.0" fill="none" stroke="#e89a34" stroke-width="1.05"/>
<circle cx="146.90" cy="403.90" r="2.0" fill="none" stroke="#e89a34" stroke-width="1.05"/>
<circle cx="146.90" cy="415.30" r="2.0" fill="none" stroke="#e89a34" stroke-width="1.05"/>
<circle cx="146.90" cy="417.00" r="2.0" fill="none" stroke="#e89a34" stroke-width="1.05"/>
<circle cx="146.90" cy="418.80" r="2.0" fill="none" stroke="#e89a34" stroke-width="1.05"/>
<circle cx="146.90" cy="422.30" r="2.0" fill="none" stroke="#e89a34" stroke-width="1.05"/>
<circle cx="146.90" cy="424.70" r="2.0" fill="none" stroke="#e89a34" stroke-width="1.05"/>
<circle cx="146.90" cy="428.20" r="2.0" fill="none" stroke="#e89a34" stroke-width="1.05"/>
<circle cx="146.90" cy="430.50" r="2.0" fill="none" stroke="#e89a34" stroke-width="1.05"/>
<circle cx="146.90" cy="434.70" r="2.0" fill="none" stroke="#e89a34" stroke-width="1.05"/>
<circle cx="166.10" cy="356.90" r="2.0" fill="none" stroke="#e89a34" stroke-width="1.05"/>
<circle cx="166.10" cy="363.20" r="2.0" fill="none" stroke="#e89a34" stroke-width="1.05"/>
<circle cx="166.10" cy="373.90" r="2.0" fill="none" stroke="#e89a34" stroke-width="1.05"/>
<circle cx="166.10" cy="376.80" r="2.0" fill="none" stroke="#e89a34" stroke-width="1.05"/>
<circle cx="166.10" cy="384.90" r="2.0" fill="none" stroke="#e89a34" stroke-width="1.05"/>
<circle cx="166.10" cy="387.30" r="2.0" fill="none" stroke="#e89a34" stroke-width="1.05"/>
<circle cx="166.10" cy="389.60" r="2.0" fill="none" stroke="#e89a34" stroke-width="1.05"/>
<circle cx="166.10" cy="391.20" r="2.0" fill="none" stroke="#e89a34" stroke-width="1.05"/>
<circle cx="166.10" cy="393.10" r="2.0" fill="none" stroke="#e89a34" stroke-width="1.05"/>
<circle cx="166.10" cy="400.10" r="2.0" fill="none" stroke="#e89a34" stroke-width="1.05"/>
<circle cx="166.10" cy="406.00" r="2.0" fill="none" stroke="#e89a34" stroke-width="1.05"/>
<circle cx="166.10" cy="410.60" r="2.0" fill="none" stroke="#e89a34" stroke-width="1.05"/>
<text x="146.90" y="448.00" font-size="7.5" fill="#141414" stroke="#141414" stroke-width="0.17" text-anchor="middle" font-weight="normal" >FL</text>
<text transform="translate(166.10,448.00) scale(1.07,1)" x="0" y="0" font-size="7.5" fill="#141414" stroke="#141414" stroke-width="0.17" text-anchor="middle" font-weight="normal" >FL/FDC</text>
<line x1="142.30" y1="453.30" x2="178.10" y2="453.30" stroke="#58595b" stroke-width="1.25" />
<text x="160.20" y="462.90" font-size="7.6" fill="#eba13c" stroke="#eba13c" stroke-width="0.17" text-anchor="middle" font-weight="normal" >HRK</text>
<line x1="190.25" y1="435.30" x2="190.25" y2="437.60" stroke="#111" stroke-width="1.15" />
<line x1="209.45" y1="435.30" x2="209.45" y2="437.60" stroke="#111" stroke-width="1.15" />
<line x1="190.25" y1="359.20" x2="209.45" y2="373.90" stroke="#050505" stroke-width="1.0" />
<line x1="190.25" y1="398.40" x2="209.45" y2="338.20" stroke="#050505" stroke-width="1.0" />
<line x1="190.25" y1="405.30" x2="209.45" y2="403.60" stroke="#050505" stroke-width="1.0" />
<line x1="190.25" y1="406.70" x2="209.45" y2="406.10" stroke="#050505" stroke-width="1.0" />
<line x1="190.25" y1="413.70" x2="209.45" y2="414.60" stroke="#050505" stroke-width="1.0" />
<line x1="190.25" y1="424.70" x2="209.45" y2="389.60" stroke="#050505" stroke-width="1.0" />
<line x1="190.25" y1="426.30" x2="209.45" y2="396.60" stroke="#050505" stroke-width="1.0" />
<line x1="190.25" y1="428.20" x2="209.45" y2="400.40" stroke="#050505" stroke-width="1.0" />
<line x1="190.25" y1="432.20" x2="209.45" y2="409.60" stroke="#050505" stroke-width="1.0" />
<line x1="190.25" y1="434.70" x2="209.45" y2="403.60" stroke="#050505" stroke-width="1.0" />
<line x1="190.25" y1="434.70" x2="209.45" y2="425.20" stroke="#050505" stroke-width="1.0" />
<line x1="190.25" y1="434.70" x2="209.45" y2="429.70" stroke="#050505" stroke-width="1.0" />
<line x1="190.25" y1="432.90" x2="209.45" y2="398.50" stroke="#050505" stroke-width="1.0" />
<circle cx="190.25" cy="359.20" r="2.0" fill="none" stroke="#6aae45" stroke-width="1.05"/>
<circle cx="190.25" cy="398.40" r="2.0" fill="none" stroke="#6aae45" stroke-width="1.05"/>
<circle cx="190.25" cy="405.30" r="2.0" fill="none" stroke="#6aae45" stroke-width="1.05"/>
<circle cx="190.25" cy="406.70" r="2.0" fill="none" stroke="#6aae45" stroke-width="1.05"/>
<circle cx="190.25" cy="413.70" r="2.0" fill="none" stroke="#6aae45" stroke-width="1.05"/>
<circle cx="190.25" cy="424.70" r="2.0" fill="none" stroke="#6aae45" stroke-width="1.05"/>
<circle cx="190.25" cy="428.20" r="2.0" fill="none" stroke="#6aae45" stroke-width="1.05"/>
<circle cx="190.25" cy="432.20" r="2.0" fill="none" stroke="#6aae45" stroke-width="1.05"/>
<circle cx="190.25" cy="434.70" r="2.0" fill="none" stroke="#6aae45" stroke-width="1.05"/>
<circle cx="209.45" cy="338.20" r="2.0" fill="none" stroke="#6aae45" stroke-width="1.05"/>
<circle cx="209.45" cy="373.90" r="2.0" fill="none" stroke="#6aae45" stroke-width="1.05"/>
<circle cx="209.45" cy="389.60" r="2.0" fill="none" stroke="#6aae45" stroke-width="1.05"/>
<circle cx="209.45" cy="396.60" r="2.0" fill="none" stroke="#6aae45" stroke-width="1.05"/>
<circle cx="209.45" cy="398.50" r="2.0" fill="none" stroke="#6aae45" stroke-width="1.05"/>
<circle cx="209.45" cy="400.40" r="2.0" fill="none" stroke="#6aae45" stroke-width="1.05"/>
<circle cx="209.45" cy="403.60" r="2.0" fill="none" stroke="#6aae45" stroke-width="1.05"/>
<circle cx="209.45" cy="406.10" r="2.0" fill="none" stroke="#6aae45" stroke-width="1.05"/>
<circle cx="209.45" cy="409.60" r="2.0" fill="none" stroke="#6aae45" stroke-width="1.05"/>
<circle cx="209.45" cy="414.60" r="2.0" fill="none" stroke="#6aae45" stroke-width="1.05"/>
<circle cx="209.45" cy="425.20" r="2.0" fill="none" stroke="#6aae45" stroke-width="1.05"/>
<circle cx="209.45" cy="429.70" r="2.0" fill="none" stroke="#6aae45" stroke-width="1.05"/>
<text x="190.25" y="448.00" font-size="7.5" fill="#141414" stroke="#141414" stroke-width="0.17" text-anchor="middle" font-weight="normal" >FL</text>
<text transform="translate(209.45,448.00) scale(1.07,1)" x="0" y="0" font-size="7.5" fill="#141414" stroke="#141414" stroke-width="0.17" text-anchor="middle" font-weight="normal" >FL/FDC</text>
<line x1="185.70" y1="453.30" x2="221.50" y2="453.30" stroke="#58595b" stroke-width="1.25" />
<text x="203.60" y="462.90" font-size="7.6" fill="#6aae45" stroke="#6aae45" stroke-width="0.17" text-anchor="middle" font-weight="normal" >NOXA</text>
<line x1="233.60" y1="435.30" x2="233.60" y2="437.60" stroke="#111" stroke-width="1.15" />
<line x1="252.80" y1="435.30" x2="252.80" y2="437.60" stroke="#111" stroke-width="1.15" />
<line x1="233.60" y1="372.80" x2="252.80" y2="376.00" stroke="#050505" stroke-width="1.0" />
<line x1="233.60" y1="404.10" x2="252.80" y2="367.40" stroke="#050505" stroke-width="1.0" />
<line x1="233.60" y1="391.90" x2="252.80" y2="404.80" stroke="#050505" stroke-width="1.0" />
<line x1="233.60" y1="393.60" x2="252.80" y2="409.00" stroke="#050505" stroke-width="1.0" />
<line x1="233.60" y1="421.90" x2="252.80" y2="420.70" stroke="#050505" stroke-width="1.0" />
<line x1="233.60" y1="393.00" x2="252.80" y2="420.90" stroke="#050505" stroke-width="1.0" />
<circle cx="233.60" cy="372.80" r="2.5" fill="#c6c6cb"/>
<circle cx="233.60" cy="391.90" r="2.5" fill="#c6c6cb"/>
<circle cx="233.60" cy="393.60" r="2.5" fill="#c6c6cb"/>
<circle cx="233.60" cy="404.10" r="2.5" fill="#c6c6cb"/>
<circle cx="233.60" cy="421.90" r="2.5" fill="#c6c6cb"/>
<circle cx="252.80" cy="367.40" r="2.5" fill="#c6c6cb"/>
<circle cx="252.80" cy="376.00" r="2.5" fill="#c6c6cb"/>
<circle cx="252.80" cy="404.80" r="2.5" fill="#c6c6cb"/>
<circle cx="252.80" cy="409.00" r="2.5" fill="#c6c6cb"/>
<circle cx="252.80" cy="420.70" r="2.5" fill="#c6c6cb"/>
<circle cx="252.80" cy="425.80" r="2.5" fill="#c6c6cb"/>
<text x="233.60" y="448.00" font-size="7.5" fill="#141414" stroke="#141414" stroke-width="0.17" text-anchor="middle" font-weight="normal" >FL</text>
<text transform="translate(252.80,448.00) scale(1.07,1)" x="0" y="0" font-size="7.5" fill="#141414" stroke="#141414" stroke-width="0.17" text-anchor="middle" font-weight="normal" >FL/FDC</text>
<line x1="229.00" y1="453.30" x2="264.60" y2="453.30" stroke="#58595b" stroke-width="1.25" />
<text x="246.80" y="462.90" font-size="7.6" fill="#c0284e" stroke="#c0284e" stroke-width="0.17" text-anchor="middle" font-weight="normal" >FS2</text>
<circle cx="68.40" cy="338.20" r="1.15" fill="#111"/>
<circle cx="71.90" cy="338.20" r="1.15" fill="#111"/>
<circle cx="113.55" cy="338.30" r="1.15" fill="#111"/>
<circle cx="117.05" cy="338.30" r="1.15" fill="#111"/>
<circle cx="154.70" cy="338.50" r="1.15" fill="#111"/>
<circle cx="195.70" cy="338.50" r="1.15" fill="#111"/>
<text x="241.50" y="363.00" font-size="7.3" fill="#222" stroke="#222" stroke-width="0.17" text-anchor="middle" font-weight="normal" >ns</text>
<line x1="309.40" y1="334.30" x2="309.40" y2="435.50" stroke="#000" stroke-width="1.25" />
<line x1="309.40" y1="434.90" x2="507.80" y2="434.90" stroke="#000" stroke-width="1.3" />
<line x1="306.40" y1="434.90" x2="309.40" y2="434.90" stroke="#111" stroke-width="1.15" />
<text transform="translate(303.10,437.50) scale(1.13,1)" x="0" y="0" font-size="7.4" fill="#141414" stroke="#141414" stroke-width="0.17" text-anchor="end" font-weight="normal" >0</text>
<line x1="306.40" y1="415.36" x2="309.40" y2="415.36" stroke="#111" stroke-width="1.15" />
<text transform="translate(303.10,417.96) scale(1.13,1)" x="0" y="0" font-size="7.4" fill="#141414" stroke="#141414" stroke-width="0.17" text-anchor="end" font-weight="normal" >20</text>
<line x1="306.40" y1="395.82" x2="309.40" y2="395.82" stroke="#111" stroke-width="1.15" />
<text transform="translate(303.10,398.42) scale(1.13,1)" x="0" y="0" font-size="7.4" fill="#141414" stroke="#141414" stroke-width="0.17" text-anchor="end" font-weight="normal" >40</text>
<line x1="306.40" y1="376.28" x2="309.40" y2="376.28" stroke="#111" stroke-width="1.15" />
<text transform="translate(303.10,378.88) scale(1.13,1)" x="0" y="0" font-size="7.4" fill="#141414" stroke="#141414" stroke-width="0.17" text-anchor="end" font-weight="normal" >60</text>
<line x1="306.40" y1="356.74" x2="309.40" y2="356.74" stroke="#111" stroke-width="1.15" />
<text transform="translate(303.10,359.34) scale(1.13,1)" x="0" y="0" font-size="7.4" fill="#141414" stroke="#141414" stroke-width="0.17" text-anchor="end" font-weight="normal" >80</text>
<line x1="306.40" y1="337.20" x2="309.40" y2="337.20" stroke="#111" stroke-width="1.15" />
<text transform="translate(303.10,339.80) scale(1.13,1)" x="0" y="0" font-size="7.4" fill="#141414" stroke="#141414" stroke-width="0.17" text-anchor="end" font-weight="normal" >100</text>
<line x1="319.50" y1="434.90" x2="319.50" y2="437.20" stroke="#111" stroke-width="1.15" />
<line x1="339.30" y1="434.90" x2="339.30" y2="437.20" stroke="#111" stroke-width="1.15" />
<line x1="319.50" y1="360.40" x2="339.30" y2="359.90" stroke="#050505" stroke-width="1.0" />
<line x1="319.50" y1="366.50" x2="339.30" y2="371.10" stroke="#050505" stroke-width="1.0" />
<line x1="319.50" y1="367.50" x2="339.30" y2="382.60" stroke="#050505" stroke-width="1.0" />
<line x1="319.50" y1="367.50" x2="339.30" y2="398.40" stroke="#050505" stroke-width="1.0" />
<line x1="319.50" y1="368.40" x2="339.30" y2="402.10" stroke="#050505" stroke-width="1.0" />
<line x1="319.50" y1="368.40" x2="339.30" y2="408.20" stroke="#050505" stroke-width="1.0" />
<line x1="319.50" y1="384.50" x2="339.30" y2="400.00" stroke="#050505" stroke-width="1.0" />
<circle cx="319.50" cy="360.40" r="2.0" fill="none" stroke="#2b4a86" stroke-width="1.05"/>
<circle cx="319.50" cy="366.50" r="2.0" fill="none" stroke="#2b4a86" stroke-width="1.05"/>
<circle cx="319.50" cy="368.40" r="2.0" fill="none" stroke="#2b4a86" stroke-width="1.05"/>
<circle cx="319.50" cy="384.50" r="2.0" fill="none" stroke="#2b4a86" stroke-width="1.05"/>
<circle cx="339.30" cy="359.90" r="2.0" fill="none" stroke="#2b4a86" stroke-width="1.05"/>
<circle cx="339.30" cy="371.10" r="2.0" fill="none" stroke="#2b4a86" stroke-width="1.05"/>
<circle cx="339.30" cy="382.60" r="2.0" fill="none" stroke="#2b4a86" stroke-width="1.05"/>
<circle cx="339.30" cy="398.40" r="2.0" fill="none" stroke="#2b4a86" stroke-width="1.05"/>
<circle cx="339.30" cy="402.10" r="2.0" fill="none" stroke="#2b4a86" stroke-width="1.05"/>
<circle cx="339.30" cy="408.20" r="2.0" fill="none" stroke="#2b4a86" stroke-width="1.05"/>
<text x="319.50" y="448.00" font-size="7.5" fill="#141414" stroke="#141414" stroke-width="0.17" text-anchor="middle" font-weight="normal" >FL</text>
<text x="339.30" y="448.00" font-size="7.9" fill="#141414" stroke="#141414" stroke-width="0.17" text-anchor="middle" font-weight="normal" >FL/M&#934;</text>
<line x1="313.90" y1="453.30" x2="346.70" y2="453.30" stroke="#58595b" stroke-width="1.25" />
<text x="330.30" y="462.90" font-size="7.6" fill="#3c5a94" stroke="#3c5a94" stroke-width="0.17" text-anchor="middle" font-weight="normal" >VEN</text>
<line x1="359.80" y1="434.90" x2="359.80" y2="437.20" stroke="#111" stroke-width="1.15" />
<line x1="379.60" y1="434.90" x2="379.60" y2="437.20" stroke="#111" stroke-width="1.15" />
<line x1="359.80" y1="351.80" x2="379.60" y2="361.30" stroke="#050505" stroke-width="1.0" />
<line x1="359.80" y1="359.60" x2="379.60" y2="369.10" stroke="#050505" stroke-width="1.0" />
<line x1="359.80" y1="359.60" x2="379.60" y2="435.00" stroke="#050505" stroke-width="1.0" />
<line x1="359.80" y1="364.00" x2="379.60" y2="417.00" stroke="#050505" stroke-width="1.0" />
<line x1="359.80" y1="372.10" x2="379.60" y2="404.30" stroke="#050505" stroke-width="1.0" />
<line x1="359.80" y1="373.30" x2="379.60" y2="408.20" stroke="#050505" stroke-width="1.0" />
<circle cx="359.80" cy="351.80" r="2.0" fill="none" stroke="#62a6dc" stroke-width="1.05"/>
<circle cx="359.80" cy="359.60" r="2.0" fill="none" stroke="#62a6dc" stroke-width="1.05"/>
<circle cx="359.80" cy="364.00" r="2.0" fill="none" stroke="#62a6dc" stroke-width="1.05"/>
<circle cx="359.80" cy="372.10" r="2.0" fill="none" stroke="#62a6dc" stroke-width="1.05"/>
<circle cx="359.80" cy="373.30" r="2.0" fill="none" stroke="#62a6dc" stroke-width="1.05"/>
<circle cx="379.60" cy="361.30" r="2.0" fill="none" stroke="#62a6dc" stroke-width="1.05"/>
<circle cx="379.60" cy="369.10" r="2.0" fill="none" stroke="#62a6dc" stroke-width="1.05"/>
<circle cx="379.60" cy="404.30" r="2.0" fill="none" stroke="#62a6dc" stroke-width="1.05"/>
<circle cx="379.60" cy="408.20" r="2.0" fill="none" stroke="#62a6dc" stroke-width="1.05"/>
<circle cx="379.60" cy="417.00" r="2.0" fill="none" stroke="#62a6dc" stroke-width="1.05"/>
<circle cx="379.60" cy="435.00" r="2.0" fill="none" stroke="#62a6dc" stroke-width="1.05"/>
<text x="359.80" y="448.00" font-size="7.5" fill="#141414" stroke="#141414" stroke-width="0.17" text-anchor="middle" font-weight="normal" >FL</text>
<text x="379.60" y="448.00" font-size="7.9" fill="#141414" stroke="#141414" stroke-width="0.17" text-anchor="middle" font-weight="normal" >FL/M&#934;</text>
<line x1="357.40" y1="453.30" x2="390.00" y2="453.30" stroke="#58595b" stroke-width="1.25" />
<text x="373.70" y="462.90" font-size="7.6" fill="#6aaee2" stroke="#6aaee2" stroke-width="0.17" text-anchor="middle" font-weight="normal" >BAD</text>
<line x1="400.10" y1="434.90" x2="400.10" y2="437.20" stroke="#111" stroke-width="1.15" />
<line x1="419.90" y1="434.90" x2="419.90" y2="437.20" stroke="#111" stroke-width="1.15" />
<line x1="400.10" y1="384.80" x2="419.90" y2="362.30" stroke="#050505" stroke-width="1.0" />
<line x1="400.10" y1="391.30" x2="419.90" y2="381.10" stroke="#050505" stroke-width="1.0" />
<line x1="400.10" y1="378.20" x2="419.90" y2="415.70" stroke="#050505" stroke-width="1.0" />
<line x1="400.10" y1="415.20" x2="419.90" y2="415.70" stroke="#050505" stroke-width="1.0" />
<line x1="400.10" y1="423.00" x2="419.90" y2="409.60" stroke="#050505" stroke-width="1.0" />
<line x1="400.10" y1="429.10" x2="419.90" y2="419.60" stroke="#050505" stroke-width="1.0" />
<circle cx="400.10" cy="378.20" r="2.5" fill="#c6c6cb"/>
<circle cx="400.10" cy="384.80" r="2.5" fill="#c6c6cb"/>
<circle cx="400.10" cy="391.30" r="2.5" fill="#c6c6cb"/>
<circle cx="400.10" cy="415.20" r="2.5" fill="#c6c6cb"/>
<circle cx="400.10" cy="423.00" r="2.5" fill="#c6c6cb"/>
<circle cx="400.10" cy="429.10" r="2.5" fill="#c6c6cb"/>
<circle cx="419.90" cy="362.30" r="2.5" fill="#c6c6cb"/>
<circle cx="419.90" cy="381.10" r="2.5" fill="#c6c6cb"/>
<circle cx="419.90" cy="409.60" r="2.5" fill="#c6c6cb"/>
<circle cx="419.90" cy="415.70" r="2.5" fill="#c6c6cb"/>
<circle cx="419.90" cy="419.60" r="2.5" fill="#c6c6cb"/>
<text x="400.10" y="448.00" font-size="7.5" fill="#141414" stroke="#141414" stroke-width="0.17" text-anchor="middle" font-weight="normal" >FL</text>
<text x="419.90" y="448.00" font-size="7.9" fill="#141414" stroke="#141414" stroke-width="0.17" text-anchor="middle" font-weight="normal" >FL/M&#934;</text>
<line x1="396.20" y1="453.30" x2="429.20" y2="453.30" stroke="#58595b" stroke-width="1.25" />
<text x="412.70" y="462.90" font-size="7.6" fill="#eba13c" stroke="#eba13c" stroke-width="0.17" text-anchor="middle" font-weight="normal" >HRK</text>
<line x1="440.40" y1="434.90" x2="440.40" y2="437.20" stroke="#111" stroke-width="1.15" />
<line x1="460.20" y1="434.90" x2="460.20" y2="437.20" stroke="#111" stroke-width="1.15" />
<line x1="440.40" y1="397.70" x2="460.20" y2="402.60" stroke="#050505" stroke-width="1.0" />
<line x1="440.40" y1="410.90" x2="460.20" y2="419.60" stroke="#050505" stroke-width="1.0" />
<line x1="440.40" y1="425.50" x2="460.20" y2="432.80" stroke="#050505" stroke-width="1.0" />
<line x1="440.40" y1="431.80" x2="460.20" y2="428.70" stroke="#050505" stroke-width="1.0" />
<line x1="440.40" y1="433.50" x2="460.20" y2="431.10" stroke="#050505" stroke-width="1.0" />
<circle cx="440.40" cy="397.70" r="2.5" fill="#c6c6cb"/>
<circle cx="440.40" cy="410.90" r="2.5" fill="#c6c6cb"/>
<circle cx="440.40" cy="425.50" r="2.5" fill="#c6c6cb"/>
<circle cx="440.40" cy="431.80" r="2.5" fill="#c6c6cb"/>
<circle cx="440.40" cy="433.50" r="2.5" fill="#c6c6cb"/>
<circle cx="460.20" cy="402.60" r="2.5" fill="#c6c6cb"/>
<circle cx="460.20" cy="419.60" r="2.5" fill="#c6c6cb"/>
<circle cx="460.20" cy="428.70" r="2.5" fill="#c6c6cb"/>
<circle cx="460.20" cy="431.10" r="2.5" fill="#c6c6cb"/>
<circle cx="460.20" cy="432.80" r="2.5" fill="#c6c6cb"/>
<text x="440.40" y="448.00" font-size="7.5" fill="#141414" stroke="#141414" stroke-width="0.17" text-anchor="middle" font-weight="normal" >FL</text>
<text x="460.20" y="448.00" font-size="7.9" fill="#141414" stroke="#141414" stroke-width="0.17" text-anchor="middle" font-weight="normal" >FL/M&#934;</text>
<line x1="436.50" y1="453.30" x2="469.30" y2="453.30" stroke="#58595b" stroke-width="1.25" />
<text x="452.90" y="462.90" font-size="7.6" fill="#6aae45" stroke="#6aae45" stroke-width="0.17" text-anchor="middle" font-weight="normal" >NOXA</text>
<line x1="480.70" y1="434.90" x2="480.70" y2="437.20" stroke="#111" stroke-width="1.15" />
<line x1="500.50" y1="434.90" x2="500.50" y2="437.20" stroke="#111" stroke-width="1.15" />
<line x1="480.70" y1="357.20" x2="500.50" y2="360.90" stroke="#050505" stroke-width="1.0" />
<line x1="480.70" y1="379.60" x2="500.50" y2="366.50" stroke="#050505" stroke-width="1.0" />
<line x1="480.70" y1="386.00" x2="500.50" y2="371.30" stroke="#050505" stroke-width="1.0" />
<line x1="480.70" y1="401.10" x2="500.50" y2="376.70" stroke="#050505" stroke-width="1.0" />
<line x1="480.70" y1="407.90" x2="500.50" y2="371.30" stroke="#050505" stroke-width="1.0" />
<line x1="480.70" y1="413.30" x2="500.50" y2="409.60" stroke="#050505" stroke-width="1.0" />
<circle cx="480.70" cy="357.20" r="2.0" fill="none" stroke="#b5123d" stroke-width="1.05"/>
<circle cx="480.70" cy="379.60" r="2.0" fill="none" stroke="#b5123d" stroke-width="1.05"/>
<circle cx="480.70" cy="386.00" r="2.0" fill="none" stroke="#b5123d" stroke-width="1.05"/>
<circle cx="480.70" cy="401.10" r="2.0" fill="none" stroke="#b5123d" stroke-width="1.05"/>
<circle cx="480.70" cy="407.90" r="2.0" fill="none" stroke="#b5123d" stroke-width="1.05"/>
<circle cx="480.70" cy="413.30" r="2.0" fill="none" stroke="#b5123d" stroke-width="1.05"/>
<circle cx="500.50" cy="360.90" r="2.0" fill="none" stroke="#b5123d" stroke-width="1.05"/>
<circle cx="500.50" cy="366.50" r="2.0" fill="none" stroke="#b5123d" stroke-width="1.05"/>
<circle cx="500.50" cy="371.30" r="2.0" fill="none" stroke="#b5123d" stroke-width="1.05"/>
<circle cx="500.50" cy="376.70" r="2.0" fill="none" stroke="#b5123d" stroke-width="1.05"/>
<circle cx="500.50" cy="409.60" r="2.0" fill="none" stroke="#b5123d" stroke-width="1.05"/>
<text x="480.70" y="448.00" font-size="7.5" fill="#141414" stroke="#141414" stroke-width="0.17" text-anchor="middle" font-weight="normal" >FL</text>
<text x="500.50" y="448.00" font-size="7.9" fill="#141414" stroke="#141414" stroke-width="0.17" text-anchor="middle" font-weight="normal" >FL/M&#934;</text>
<line x1="476.50" y1="453.30" x2="509.70" y2="453.30" stroke="#58595b" stroke-width="1.25" />
<text x="493.10" y="462.90" font-size="7.6" fill="#c0284e" stroke="#c0284e" stroke-width="0.17" text-anchor="middle" font-weight="normal" >FS2</text>
<circle cx="329.80" cy="343.20" r="1.15" fill="#111"/>
<circle cx="367.60" cy="342.80" r="1.15" fill="#111"/>
<text x="407.20" y="359.50" font-size="7.3" fill="#222" stroke="#222" stroke-width="0.17" text-anchor="middle" font-weight="normal" >ns</text>
<text x="449.20" y="385.60" font-size="7.3" fill="#222" stroke="#222" stroke-width="0.17" text-anchor="middle" font-weight="normal" >ns</text>
<circle cx="489.50" cy="343.30" r="1.15" fill="#111"/>
<text transform="translate(22.60,385.20) rotate(-90)" x="0" y="0" font-size="10.0" fill="#141414" stroke="#141414" stroke-width="0.3" text-anchor="middle" dominant-baseline="central" textLength="79.5" lengthAdjust="spacingAndGlyphs">% of cytochrome C release</text>
<text transform="translate(281.30,385.30) rotate(-90)" x="0" y="0" font-size="10.0" fill="#141414" stroke="#141414" stroke-width="0.3" text-anchor="middle" dominant-baseline="central" textLength="79.5" lengthAdjust="spacingAndGlyphs">% of cytochrome C release</text>
</svg>
</body></html>
